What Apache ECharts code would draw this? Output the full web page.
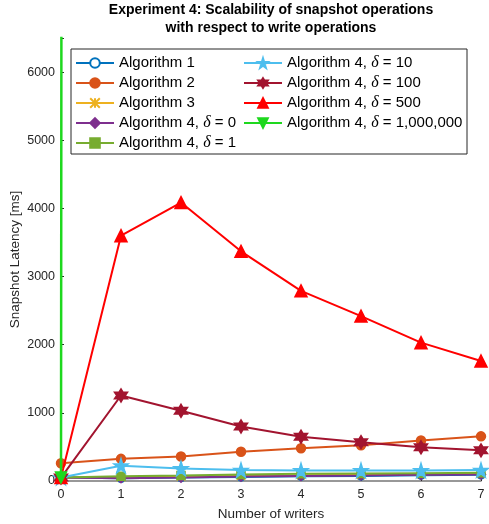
<!DOCTYPE html>
<html><head><meta charset="utf-8">
<script src="https://cdn.jsdelivr.net/npm/echarts@6/dist/echarts.min.js"></script>
<style>html,body{margin:0;padding:0;background:#fff}#c{width:489px;height:524px}</style>
</head><body><div id="c"></div>
<script>
const writers = [0, 1, 2, 3, 4, 5, 6, 7];
const alg1 = [50, 40, 50, 60, 70, 75, 85, 90];
const alg2 = [260, 325, 360, 430, 480, 525, 595, 655];
const alg3 = [50, 55, 65, 75, 85, 90, 100, 105];
const alg4d0 = [50, 40, 50, 65, 75, 80, 90, 95];
const alg4d1 = [50, 70, 80, 95, 105, 110, 115, 120];
const alg4d10 = [50, 225, 185, 160, 155, 155, 155, 160];
const alg4d100 = [50, 1255, 1030, 800, 650, 570, 495, 450];
const alg4d500 = [50, 3600, 4085, 3370, 2790, 2420, 2030, 1760];
const alg4d1e6 = [50, 1000000, 1000000, 1000000, 1000000, 1000000, 1000000, 1000000];
const seriesNames = ['Algorithm 1', 'Algorithm 2', 'Algorithm 3', 'Algorithm 4, δ = 0', 'Algorithm 4, δ = 1',
  'Algorithm 4, δ = 10', 'Algorithm 4, δ = 100', 'Algorithm 4, δ = 500', 'Algorithm 4, δ = 1,000,000'];
const yTicks = [0, 1000, 2000, 3000, 4000, 5000, 6000];
const titleLines = ['Experiment 4: Scalability of snapshot operations', 'with respect to write operations'];

const values = [alg1, alg2, alg3, alg4d0, alg4d1, alg4d10, alg4d100, alg4d500, alg4d1e6];
const colors = ['#0072BD', '#D95319', '#EDB120', '#7E2F8E', '#77AC30', '#4DBEEE', '#A2142F', '#FF0000', '#1ED81E'];
const STAR = 'path://M50,0 L61,35 L98,35 L68,57 L79,91 L50,70 L21,91 L32,57 L2,35 L39,35 Z';
const HEX = 'path://M50,0 L63,25 L93,25 L78,50 L93,75 L63,75 L50,100 L37,75 L7,75 L22,50 L7,25 L37,25 Z';
const XMARK = 'path://M0,0 L10,10 M10,0 L0,10 M5,0 L5,10 M0,5 L10,5';
const symbols = ['circle', 'circle', XMARK, 'diamond', 'rect', STAR, HEX, 'triangle', 'path://M0,0 L10,0 L5,9 Z'];
const sizes = [8, 9, 8, 9, 8, 14, 13, 12, 11];

const series = values.map((arr, i) => ({
  name: seriesNames[i],
  type: 'line',
  data: writers.map((x, j) => [x, arr[j]]),
  symbol: symbols[i],
  symbolSize: sizes[i],
  showAllSymbol: true,
  clip: true,
  lineStyle: { color: colors[i], width: i === 8 ? 2.5 : 2 },
  itemStyle: { color: i === 0 ? '#fff' : colors[i], borderColor: colors[i], borderWidth: 1.5 },
  emphasis: { disabled: true },
  z: 2 + i * 0.01
}));

const legendText = {
  fontFamily: 'Liberation Sans, Arial, sans-serif', fontSize: 15, color: '#000', lineHeight: 16,
  rich: { d: { fontFamily: 'Liberation Serif, serif', fontStyle: 'italic', fontSize: 16, color: '#000', lineHeight: 16 } }
};
const fmt = n => n.replace('δ', '{d|δ}');
const legendBase = {
  orient: 'vertical', itemWidth: 38, itemHeight: 12, itemGap: 4, selectedMode: false,
  textStyle: legendText, formatter: fmt, z: 5
};

const chart = echarts.init(document.getElementById('c'), null, { renderer: 'canvas' });
chart.setOption({
  animation: false,
  backgroundColor: '#fff',
  grid: { left: 61, right: 8, top: 38, bottom: 43, containLabel: false, outerBoundsMode: 'none' },
  xAxis: {
    type: 'value', min: 0, max: 7, interval: 1,
    name: 'Number of writers', nameLocation: 'middle', nameGap: 26, nameMoveOverlap: false,
    nameTextStyle: { fontFamily: 'Liberation Sans, Arial', fontSize: 13.5, color: '#262626' },
    axisLine: { show: true, lineStyle: { color: '#777', width: 1.5 } },
    axisTick: { show: true, inside: true, length: 3, lineStyle: { color: '#262626' } },
    axisLabel: { fontFamily: 'Liberation Sans, Arial', fontSize: 12.5, color: '#262626', margin: 7 },
    splitLine: { show: false }
  },
  yAxis: {
    type: 'value', min: 0, max: 6500, interval: 1000,
    name: 'Snapshot Latency [ms]', nameLocation: 'middle', nameGap: 39, nameMoveOverlap: false,
    nameTextStyle: { fontFamily: 'Liberation Sans, Arial', fontSize: 13.5, color: '#262626' },
    axisLine: { show: true, lineStyle: { color: '#262626' } },
    axisTick: { show: true, inside: true, length: 3, lineStyle: { color: '#262626' } },
    axisLabel: { fontFamily: 'Liberation Sans, Arial', fontSize: 12.5, color: '#262626', margin: 6,
      formatter: v => (yTicks.indexOf(v) >= 0 ? String(v) : '') },
    splitLine: { show: false }
  },
  legend: [
    Object.assign({}, legendBase, { data: seriesNames.slice(0, 5), left: 70, top: 50 }),
    Object.assign({}, legendBase, { data: seriesNames.slice(5), left: 238, top: 50 })
  ],
  graphic: [
    { type: 'rect', z: 4, shape: { x: 71, y: 49, width: 396, height: 105 },
      style: { fill: '#fff', stroke: '#262626', lineWidth: 1 } },
    { type: 'text', z: 5, x: 271, y: 10,
      style: { text: titleLines[0], font: 'bold 14px "Liberation Sans", Arial', fill: '#000', align: 'center', verticalAlign: 'middle' } },
    { type: 'text', z: 5, x: 271, y: 28,
      style: { text: titleLines[1], font: 'bold 14px "Liberation Sans", Arial', fill: '#000', align: 'center', verticalAlign: 'middle' } }
  ],
  series: series
});
</script>
</body></html>
